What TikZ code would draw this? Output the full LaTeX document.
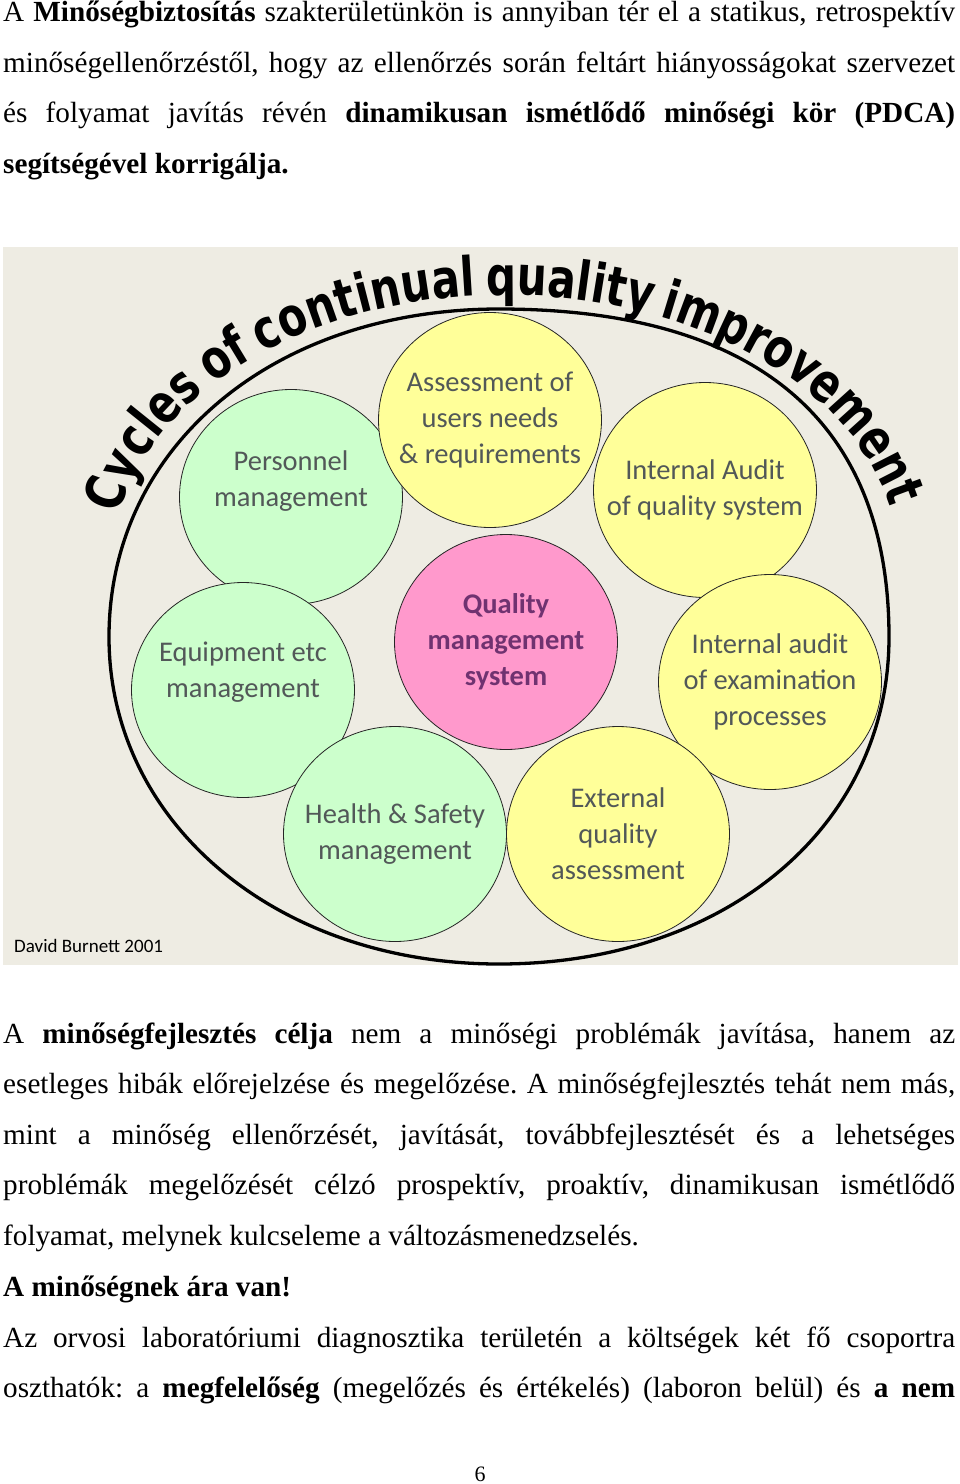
\documentclass[tikz,border=0pt]{standalone}
\usepackage{fontspec}
\setmainfont{Liberation Serif}
\newfontfamily\bubblefont{Carlito}
\newfontfamily\titlefont{DejaVu Sans}[FakeStretch=0.78]
\newcommand\titletype{\titlefont\bfseries\fontsize{54}{54}\selectfont}
\frenchspacing
\usetikzlibrary{shapes.geometric}
\definecolor{pagebeige}{RGB}{238,236,227}
\definecolor{mintfill}{RGB}{204,255,204}
\definecolor{lemonfill}{RGB}{255,255,153}
\definecolor{rosefill}{RGB}{255,153,204}
\definecolor{bubbleink}{RGB}{82,88,88}
\definecolor{plumink}{RGB}{112,50,112}
\tikzset{
  bodyline/.style={anchor=base west, inner sep=0pt, font=\fontsize{29.2}{50.8}\selectfont},
  bubble/.style={ellipse, draw=black!85, line width=0.8pt, minimum width=223pt, minimum height=215pt, inner sep=0pt},
  bubbletext/.style={align=center, inner sep=0pt, text=bubbleink, font=\bubblefont\fontsize{28.5}{36}\selectfont},
  coretext/.style={bubbletext, text=plumink, font=\bubblefont\bfseries\fontsize{28.5}{36}\selectfont},
}
\begin{document}
\begin{tikzpicture}[x=1pt, y=-1pt, line cap=round, line join=round]
  \useasboundingbox[fill=white] (0,0) rectangle (960,1484);
  % text above the figure
  \node[bodyline] (top1) at (3,21) {\makebox[952pt][s]{A \textbf{Minőségbiztosítás} szakterületünkön is annyiban tér el a statikus, retrospektív}};
  \node[bodyline] (top2) at (3,72) {\makebox[952pt][s]{minőségellenőrzéstől, hogy az ellenőrzés során feltárt hiányosságokat szervezet}};
  \node[bodyline] (top3) at (3,122) {\makebox[952pt][s]{és folyamat javítás révén \textbf{dinamikusan ismétlődő minőségi kör (PDCA)}}};
  \node[bodyline] (top4) at (3,173) {\textbf{segítségével korrigálja.}};
  % figure
  \fill[pagebeige] (3,247) rectangle (958,965);
  \begin{scope}
    \clip (3,247) rectangle (958,965);
    \draw[line width=3.3pt] (889,637) .. controls (889,421) and (756,309) .. (499,309)
      .. controls (273,309) and (109,447) .. (109,637)
      .. controls (109,823) and (277,964) .. (499,964)
      .. controls (725,964) and (889,827) .. (889,637) -- cycle;
  \end{scope}
  % title, letter by letter round an ellipse (advance and gap in em)
  \xdef\titleang{169.5}
  \foreach \ch/\adv/\gap [count=\i] in {C/.734/0, y/.652/0, c/.593/0, l/.343/0, e/.678/0, s/.595/0,
      o/.687/.244, f/.435/0, c/.593/.244, o/.687/0, n/.712/0, t/.478/0, i/.343/0, n/.712/0, u/.712/0,
      a/.675/0, l/.343/0, q/.716/.244, u/.712/0, a/.675/0, l/.343/0, i/.343/0, t/.478/0, y/.652/0,
      i/.343/.244, m/1.042/0, p/.716/0, r/.493/0, o/.687/0, v/.652/0, e/.678/0, m/1.042/0, e/.678/0,
      n/.712/0, t/.478/0}{
    \pgfmathsetmacro\radx{\titleang>90 ? 3.92 : 3.95}
    \pgfmathsetmacro\spd{100*sqrt((\radx*sin(\titleang))^2+(2.69*cos(\titleang))^2)}
    \pgfmathsetmacro\midang{\titleang-(\gap+0.5*\adv)*42.12/\spd*57.2958}
    \pgfmathsetmacro\tilt{atan2(-2.69*cos(\midang),\radx*sin(\midang))}
    \node[rotate=\tilt, anchor=base, inner sep=0pt] (title-\i) at ({504.5+100*\radx*cos(\midang)},{564-269*sin(\midang)}) {\titletype\ch};
    \pgfmathsetmacro\nxt{\titleang-(\gap+\adv)*42.12/\spd*57.2958}
    \xdef\titleang{\nxt}
  }
  \foreach \nm/\x/\y/\col/\ink/\dy/\txt in {
      pers/291/497/mintfill/bubbletext/16/{Personnel\\management},
      assess/490/420/lemonfill/bubbletext/0/{Assessment of\\users needs\\\& requirements},
      intqa/705/490/lemonfill/bubbletext/0/{Internal Audit\\of quality system},
      equip/243/690/mintfill/bubbletext/18/{Equipment etc\\management},
      qms/506/642/rosefill/coretext/0/{Quality\\management\\system},
      intexam/770/682/lemonfill/bubbletext/0/{Internal audit\\of examination\\processes},
      health/395/834/mintfill/bubbletext/0/{Health \& Safety\\management},
      extqa/618/834/lemonfill/bubbletext/0/{External\\quality\\assessment}}{
    \node[bubble, fill=\col] (\nm) at (\x,\y) {};
    \node[\ink] (\nm-text) at (\x,{\y-\dy}) {\txt};
  }
  \node[anchor=base west, inner sep=0pt, font=\bubblefont\fontsize{19}{19}\selectfont] (credit) at (14,952) {David Burnett 2001};
  % text below the figure
  \node[bodyline] (low1) at (3,1043) {\makebox[952pt][s]{A \textbf{minőségfejlesztés célja} nem a minőségi problémák javítása, hanem az}};
  \node[bodyline] (low2) at (3,1093) {\makebox[952pt][s]{esetleges hibák előrejelzése és megelőzése. A minőségfejlesztés tehát nem más,}};
  \node[bodyline] (low3) at (3,1144) {\makebox[952pt][s]{mint a minőség ellenőrzését, javítását, továbbfejlesztését és a lehetséges}};
  \node[bodyline] (low4) at (3,1194) {\makebox[952pt][s]{problémák megelőzését célzó prospektív, proaktív, dinamikusan ismétlődő}};
  \node[bodyline] (low5) at (3,1245) {folyamat, melynek kulcseleme a változásmenedzselés.};
  \node[bodyline] (low6) at (3,1296) {\textbf{A minőségnek ára van!}};
  \node[bodyline] (low7) at (3,1347) {\makebox[952pt][s]{Az orvosi laboratóriumi diagnosztika területén a költségek két fő csoportra}};
  \node[bodyline] (low8) at (3,1397) {\makebox[952pt][s]{oszthatók: a \textbf{megfelelőség} (megelőzés és értékelés) (laboron belül) és \textbf{a nem}}};
  \node[anchor=base, inner sep=0pt, font=\fontsize{22}{22}\selectfont] (pageno) at (480,1481) {6};
\end{tikzpicture}
\end{document}
